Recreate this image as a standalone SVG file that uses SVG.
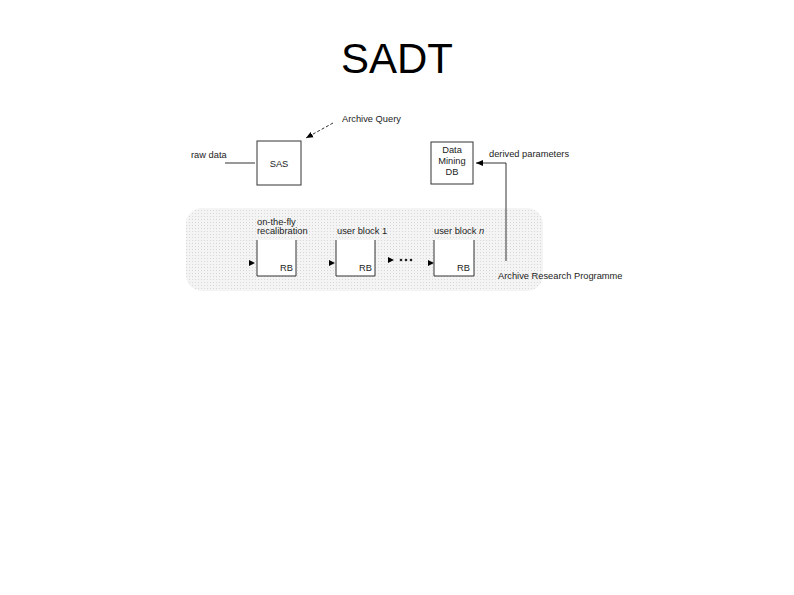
<svg xmlns="http://www.w3.org/2000/svg" width="794" height="595" viewBox="0 0 794 595">
<defs>
<pattern id="dots" width="3" height="3" patternUnits="userSpaceOnUse"><rect width="3" height="3" fill="#f4f4f4"/><rect width="1" height="1" fill="#d8d8d8"/></pattern>
<marker id="ah" markerWidth="8" markerHeight="8" refX="7" refY="4" orient="auto" markerUnits="userSpaceOnUse"><path d="M0,1 L7,4 L0,7 Z" fill="#000"/></marker>
</defs>
<style>
.t{font-family:"Liberation Sans",Arial,sans-serif;font-size:9.3px;fill:#222}
.box{fill:#fff;stroke:#333;stroke-width:1}
.ln{stroke:#333;stroke-width:1;fill:none}
</style>
<rect width="794" height="595" fill="#fff"/>
<text x="397" y="73" text-anchor="middle" style="font-family:'Liberation Sans',Arial,sans-serif;font-size:42px;fill:#000">SADT</text>
<rect x="186" y="208" width="357" height="83" rx="16" fill="url(#dots)"/>
<g id="connectors">
<line class="ln" x1="225" y1="163" x2="255" y2="163"/>
<line class="ln" x1="333" y1="123" x2="306" y2="138" stroke-dasharray="3,2" marker-end="url(#ah)"/>
<polyline class="ln" points="506,261 506,163 476,163" marker-end="url(#ah)"/>
<path d="M249,260 L255,263 L249,266 Z" fill="#000"/>
<path d="M329,260 L335,263 L329,266 Z" fill="#000"/>
<path d="M388,257 L394,260 L388,263 Z" fill="#000"/>
<path d="M428,260 L434,263 L428,266 Z" fill="#000"/>
<g fill="#222"><circle cx="401" cy="260" r="1.3"/><circle cx="406" cy="260" r="1.3"/><circle cx="411" cy="260" r="1.3"/></g>
</g>
<g id="raw-data"><text class="t" x="191" y="158">raw data</text></g>
<g id="archive-query"><text class="t" x="342" y="122">Archive Query</text></g>
<g id="sas"><rect class="box" x="257" y="141" width="44" height="44"/><text class="t" x="279" y="167" text-anchor="middle">SAS</text></g>
<g id="dmdb"><rect class="box" x="431" y="142" width="42" height="42"/><text class="t" x="452" y="153" text-anchor="middle">Data</text><text class="t" x="452" y="164" text-anchor="middle">Mining</text><text class="t" x="452" y="175" text-anchor="middle">DB</text></g>
<g id="derived"><text class="t" x="489" y="157">derived parameters</text></g>
<g id="rb1"><text class="t" x="257" y="225">on-the-fly</text><text class="t" x="257" y="234">recalibration</text><rect x="257" y="240" width="39" height="36" fill="#fff"/><polyline class="ln" points="257,240 257,276 296,276 296,240"/><text class="t" x="280" y="271">RB</text></g>
<g id="rb2"><text class="t" x="337" y="234">user block 1</text><rect x="336" y="240" width="39" height="36" fill="#fff"/><polyline class="ln" points="336,240 336,276 375,276 375,240"/><text class="t" x="359" y="271">RB</text></g>
<g id="rbn"><text class="t" x="434" y="234">user block <tspan font-style="italic">n</tspan></text><rect x="434" y="240" width="40" height="36" fill="#fff"/><polyline class="ln" points="434,240 434,276 474,276 474,240"/><text class="t" x="457" y="271">RB</text></g>
<g id="arp"><text class="t" x="498" y="279">Archive Research Programme</text></g>
</svg>
